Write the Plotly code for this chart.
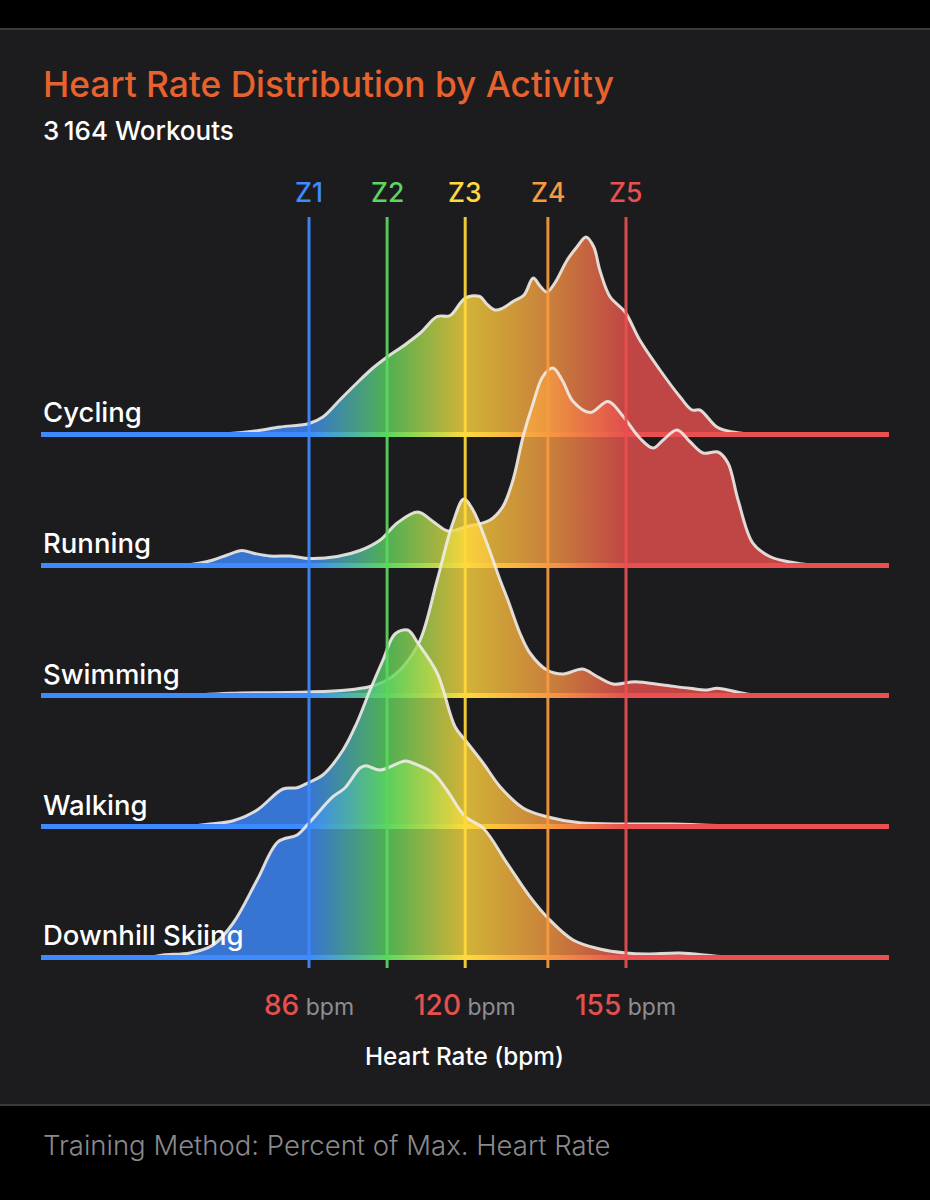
import plotly.graph_objects as go

activities = ["Cycling", "Running", "Swimming", "Walking", "Downhill Skiing"]

cycling_bpm = [64.5,68.8,74.2,79.7,84,86,89,92.7,96.2,99.9,103,106.5,110.2,113.9,116.7,120,123.2,124.7,126.5,128.2,130.4,132.8,134.8,136.3,137.8,139.5,142.2,144.3,146.3,148,149.3,151.5,154.8,158,162.4,166.8,169.4,171.1,174.8,178.3,184.2]
cycling_val = [0.2,1,3.5,7.5,9.5,11,17.5,34.5,50.5,66.5,77.5,88.5,101.5,118,119,136.5,138,130.5,124.5,126.5,133,139.5,156.5,148.5,142.5,151.5,174.5,187.5,197.5,187.5,164.5,138,122.5,94.5,64.5,37.5,24.5,24.5,7.5,2.5,0]

running_bpm = [59,62.3,65.1,68.2,71.4,74.2,77.5,81.9,86.2,92.1,97.1,101.5,105.2,109.7,113,116.3,120.4,125.4,128.2,130.4,132.6,134.8,136.9,139.1,141.1,143.5,147.2,151.1,154.4,158,160.9,163.1,166.1,168.9,171.8,175,177.2,179.4,182.6,186.3,190.7,196.1]
running_val = [0,2.5,5.5,10.5,15,12,9.5,9.5,7,9,15,25.5,42.5,53.5,44,34.5,39,45.5,59,85.5,129,162.5,189,197.5,185.5,164,153,164,149,127.5,117.5,125.5,135.5,124,112.5,113.5,102.5,65.5,22.5,9,3.5,0]

swimming_bpm = [62.3,68.8,85.8,94.3,99.3,103,106.5,110.2,113.9,117.3,119.7,121.7,124.7,127.6,129.3,131.9,134.1,137.8,141.3,145.6,148.7,152.2,157,163.1,168.9,172.6,174.8,181.3,185.3]
swimming_val = [0.5,2.2,3.5,5.5,9,15.5,29,55.5,115.5,172.5,196.5,185.5,152.5,115.5,95.5,62.5,42.5,25.5,21.5,26.5,19,11.5,13.8,10.5,7.2,5.5,7.2,1.5,0]

walking_bpm = [60.1,64.4,69.5,74.7,80.3,83.4,86,89,93.4,96.4,99.3,102.1,104.7,107.5,109.7,113.9,117.8,120,123.9,127.6,132.6,137.8,145,155,164.6,175.5,184.2]
walking_val = [0,2.5,5.8,16.5,37.5,38.8,44.2,51.5,76.5,103.5,136.5,166.5,192.5,196.5,183.5,153.5,99.8,86.5,63.5,39.8,18.5,9.8,3.8,2.5,2.5,1,0]

skiing_bpm = [51.4,54.2,60.1,65.1,69.5,74.7,79.3,83.4,86,91.2,93.8,97.1,98.4,101.5,106.9,108.6,113,116,120,123.9,129.1,134.1,138,143.5,149.3,155,159.6,166.8,175.5,184.2]
skiing_val = [0,2.5,4.5,12.5,34.5,77.5,115.8,122.5,134.5,160.8,169.5,189.5,191.8,187.5,196.5,194.5,184.5,167.5,141,129.5,94.5,60.8,39.5,17.5,8.5,4.5,3.5,4.5,1,0]

zone_names = ["Z1", "Z2", "Z3", "Z4", "Z5"]
zone_bpm = [86, 103, 120, 138, 155]
zone_colors = ["#3E8BFF", "#5CD65F", "#FFD93D", "#F59B42", "#E9504F"]
zone_rgb = ["62,139,255", "92,214,95", "255,217,61", "245,155,66", "233,80,79"]
tick_bpm = [86, 120, 155]

TITLE = "Heart Rate Distribution by Activity"
SUBTITLE = "3\u2009164 Workouts"
XLABEL = "Heart Rate (bpm)"
FOOTER = "Training Method: Percent of Max. Heart Rate"

W, H = 930, 1200
PX_PER_BPM = 4.594
X0 = 86 - 309 / PX_PER_BPM
X1 = X0 + W / PX_PER_BPM
LINE_START = X0 + 41 / PX_PER_BPM
LINE_END = X0 + 889 / PX_PER_BPM
row_base_px = [434.5, 565.5, 695.5, 826.5, 957.5]
label_px = [412, 543, 674, 805, 935]
FONT = "Inter, 'Noto Sans', sans-serif"
FILL_ALPHA = 0.8


def py(px):
    return H - px


def colorscale(alpha):
    stops = [[0, f"rgba({zone_rgb[0]},{alpha})"]]
    for b, c in zip(zone_bpm, zone_rgb):
        stops.append([(b - X0) / (X1 - X0), f"rgba({c},{alpha})"])
    stops.append([1, f"rgba({zone_rgb[-1]},{alpha})"])
    return stops


def gradient(alpha):
    return dict(type="horizontal", colorscale=colorscale(alpha), start=X0, stop=X1)


series = [
    (cycling_bpm, cycling_val),
    (running_bpm, running_val),
    (swimming_bpm, swimming_val),
    (walking_bpm, walking_val),
    (skiing_bpm, skiing_val),
]

fig = go.Figure()

for (bpm, val), base_px in zip(series, row_base_px):
    base = py(base_px)
    fig.add_trace(go.Scatter(
        x=bpm, y=[base + v for v in val], mode="lines", fill="toself",
        fillgradient=gradient(FILL_ALPHA),
        line=dict(color="rgba(240,236,232,0.9)", width=3, shape="spline", smoothing=1.0),
        hoverinfo="skip", showlegend=False,
    ))
    fig.add_trace(go.Scatter(
        x=[LINE_START, LINE_END, LINE_END, LINE_START],
        y=[base + 2.4, base + 2.4, base - 2.4, base - 2.4],
        mode="none", fill="toself", fillgradient=gradient(1),
        hoverinfo="skip", showlegend=False,
    ))

for b, c in zip(zone_bpm, zone_colors):
    fig.add_trace(go.Scatter(
        x=[b, b], y=[py(968), py(217)], mode="lines",
        line=dict(color=c, width=3), opacity=0.92,
        hoverinfo="skip", showlegend=False,
    ))

ann = []


def text(s, x, y, size, color, weight=400, anchor="left", xref="paper"):
    ann.append(dict(
        text=s, x=x / W if xref == "paper" else x, y=py(y), xref=xref, yref="y",
        xanchor=anchor, yanchor="middle", showarrow=False,
        font=dict(family=FONT, size=size, color=color, weight=weight),
    ))


text(TITLE, 41, 84, 35.3, "#E8622D", 500)
text(SUBTITLE, 41, 130, 26, "#FFFFFF", 500)
for n, b, c in zip(zone_names, zone_bpm, zone_colors):
    text(n, b, 192, 26.5, c, 500, "center", "x")
for a, p in zip(activities, label_px):
    text(a, 41, p, 27.5, "#FFFFFF", 500)
for b in tick_bpm:
    text(f"<span style='color:#E5504F;font-size:28px;font-weight:500'>{b}</span>"
         f"<span style='color:#8E8E93;font-size:23px'> bpm</span>",
         b, 1005, 23, "#8E8E93", 400, "center", "x")
text(XLABEL, 86 + (464.5 - 309) / PX_PER_BPM, 1056, 24.3, "#FFFFFF", 500, "center", "x")
text(FOOTER, 41, 1145, 27.5, "#8A8A8E", 300)

shapes = [
    dict(type="rect", xref="paper", yref="y", x0=0, x1=1, y0=py(1105), y1=py(29),
         fillcolor="#1C1C1E", line_width=0, layer="below"),
    dict(type="rect", xref="paper", yref="y", x0=0, x1=1, y0=py(30), y1=py(28),
         fillcolor="#3A3A3C", line_width=0, layer="below"),
    dict(type="rect", xref="paper", yref="y", x0=0, x1=1, y0=py(1106), y1=py(1104),
         fillcolor="#3A3A3C", line_width=0, layer="below"),
]

fig.update_layout(
    width=W, height=H, margin=dict(l=0, r=0, t=0, b=0),
    paper_bgcolor="#000000", plot_bgcolor="rgba(0,0,0,0)",
    xaxis=dict(range=[X0, X1], visible=False, fixedrange=True),
    yaxis=dict(range=[0, H], visible=False, fixedrange=True),
    shapes=shapes, annotations=ann, showlegend=False,
    font=dict(family=FONT),
)

fig.write_html(
    "out.html", config=dict(displayModeBar=False),
    post_script="document.body.style.margin='0';document.body.style.background='#000';",
)
